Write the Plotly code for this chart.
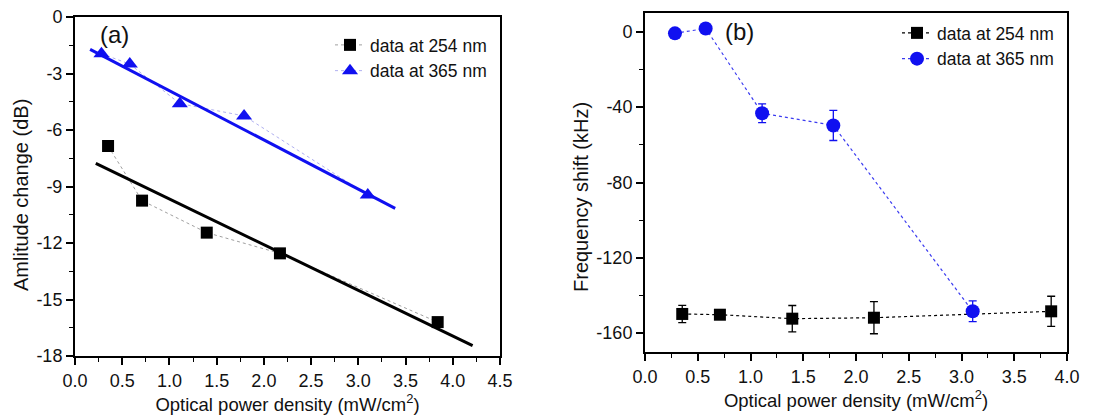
import plotly.graph_objects as go

# ---------------- data: panel (a) ----------------
a_x_254 = [0.35, 0.71, 1.395, 2.17, 3.84]
a_y_254 = [-6.85, -9.75, -11.45, -12.55, -16.2]
a_x_365 = [0.28, 0.58, 1.11, 1.79, 3.10]
a_y_365 = [-1.95, -2.5, -4.6, -5.25, -9.45]
fit_x_254 = [0.22, 4.21]
fit_y_254 = [-7.77, -17.45]
fit_x_365 = [0.16, 3.39]
fit_y_365 = [-1.72, -10.16]

# ---------------- data: panel (b) ----------------
b_x_254 = [0.353, 0.71, 1.396, 2.17, 3.85]
b_y_254 = [-149.8, -150.2, -152.3, -151.8, -148.4]
b_err_254 = [4.6, 1.2, 7.0, 8.5, 8.0]
b_x_365 = [0.284, 0.575, 1.11, 1.785, 3.106]
b_y_365 = [-0.8, 1.8, -43.2, -49.7, -148.4]
b_err_365 = [1.0, 2.0, 5.0, 8.0, 5.5]

labels = ["data at 254 nm", "data at 365 nm"]
x_ticks_a = [0.0, 0.5, 1.0, 1.5, 2.0, 2.5, 3.0, 3.5, 4.0, 4.5]
y_ticks_a = [0, -3, -6, -9, -12, -15, -18]
x_ticks_b = [0.0, 0.5, 1.0, 1.5, 2.0, 2.5, 3.0, 3.5, 4.0]
y_ticks_b = [0, -40, -80, -120, -160]
x_title = "Optical power density (mW/cm<sup>2</sup>)"
y_title_a = "Amlitude change (dB)"
y_title_b = "Frequency shift (kHz)"

FONT = "Liberation Sans, Arial, sans-serif"
BLUE = "#1010f0"
W, H = 1110, 416
OFF = 8  # page body margin


def xd(px0, px1):
    return [(px0 - OFF) / W, (px1 - OFF) / W]


def yd(top, bottom):
    return [1 - (bottom - OFF) / H, 1 - (top - OFF) / H]


def px(xpix):
    return (xpix - OFF) / W


def py(ypix):
    return 1 - (ypix - OFF) / H


fig = go.Figure()

# panel (a)
fig.add_trace(go.Scatter(x=a_x_254, y=a_y_254, mode="lines+markers", name=labels[0],
                         line=dict(color="#a0a0a0", width=1, dash="dot"),
                         marker=dict(symbol="square", size=12, color="black"),
                         xaxis="x", yaxis="y", legend="legend"))
fig.add_trace(go.Scatter(x=a_x_365, y=a_y_365, mode="lines+markers", name=labels[1],
                         line=dict(color="#b0b0f0", width=1, dash="dot"),
                         marker=dict(symbol="triangle-up", size=14, color=BLUE),
                         xaxis="x", yaxis="y", legend="legend"))
fig.add_trace(go.Scatter(x=fit_x_254, y=fit_y_254, mode="lines", showlegend=False,
                         line=dict(color="black", width=3), xaxis="x", yaxis="y"))
fig.add_trace(go.Scatter(x=fit_x_365, y=fit_y_365, mode="lines", showlegend=False,
                         line=dict(color=BLUE, width=3), xaxis="x", yaxis="y"))

# panel (b)
fig.add_trace(go.Scatter(x=b_x_254, y=b_y_254, mode="lines+markers", name=labels[0],
                         line=dict(color="black", width=1.2, dash="dot"),
                         marker=dict(symbol="square", size=12, color="black"),
                         error_y=dict(type="data", array=b_err_254, color="black",
                                      thickness=1.3, width=4),
                         xaxis="x2", yaxis="y2", legend="legend2"))
fig.add_trace(go.Scatter(x=b_x_365, y=b_y_365, mode="lines+markers", name=labels[1],
                         line=dict(color="#3a3af0", width=1.2, dash="dot"),
                         marker=dict(symbol="circle", size=14, color=BLUE),
                         error_y=dict(type="data", array=b_err_365, color=BLUE,
                                      thickness=1.3, width=4),
                         xaxis="x2", yaxis="y2", legend="legend2"))

axis_common = dict(showline=True, linecolor="black", linewidth=2, mirror=True,
                   ticks="outside", ticklen=7, tickwidth=1.5, tickcolor="black",
                   showgrid=False, zeroline=False, automargin=False,
                   ticklabeloverflow="allow",
                   tickfont=dict(family=FONT, size=18, color="#111"))
title_font = dict(family=FONT, size=18.5, color="#111")
ytitle_font = dict(family=FONT, size=20, color="#111")

fig.update_layout(
    template="none",
    width=W, height=H,
    margin=dict(l=0, r=0, t=0, b=0),
    paper_bgcolor="white", plot_bgcolor="white",
    font=dict(family=FONT, color="#111"),
    xaxis=dict(domain=xd(75, 500), range=[0, 4.5], tickvals=x_ticks_a,
               ticktext=[f"{v:.1f}" for v in x_ticks_a],
               minor=dict(dtick=0.25, ticks="outside", ticklen=4, tickwidth=1.2, tickcolor="black"),
               title=dict(text=x_title, font=title_font, standoff=8),
               anchor="y", **axis_common),
    yaxis=dict(domain=yd(17, 356), range=[-18, 0], tickvals=y_ticks_a,
               ticktext=[str(v) for v in y_ticks_a],
               minor=dict(dtick=1.5, ticks="outside", ticklen=4, tickwidth=1.2, tickcolor="black"),
               anchor="x", **axis_common),
    xaxis2=dict(domain=xd(645, 1067), range=[0, 4.0], tickvals=x_ticks_b,
                ticktext=[f"{v:.1f}" for v in x_ticks_b],
                minor=dict(dtick=0.25, ticks="outside", ticklen=4, tickwidth=1.2, tickcolor="black"),
                title=dict(text=x_title, font=title_font, standoff=8),
                anchor="y2", **axis_common),
    yaxis2=dict(domain=yd(13, 352), range=[-170, 10], tickvals=y_ticks_b,
                ticktext=[str(v) for v in y_ticks_b],
                minor=dict(dtick=20, ticks="outside", ticklen=4, tickwidth=1.2, tickcolor="black"),
                anchor="x2", **axis_common),
    legend=dict(x=(330 - OFF) / W, y=1 - (27 - OFF) / H, xanchor="left", yanchor="top",
                bgcolor="rgba(0,0,0,0)", font=dict(family=FONT, size=17.5, color="#111"),
                tracegroupgap=0, itemwidth=30),
    legend2=dict(x=(897 - OFF) / W, y=1 - (15 - OFF) / H, xanchor="left", yanchor="top",
                 bgcolor="rgba(0,0,0,0)", font=dict(family=FONT, size=17.5, color="#111"),
                 tracegroupgap=0, itemwidth=30),
    annotations=[
        dict(text="(a)", x=0.42, y=-0.95, xref="x", yref="y", xanchor="center", yanchor="middle",
             showarrow=False, font=dict(family=FONT, size=24, color="#111")),
        dict(text="(b)", x=0.9, y=0, xref="x2", yref="y2", xanchor="center", yanchor="middle",
             showarrow=False, font=dict(family=FONT, size=24, color="#111")),
        dict(text=y_title_a, x=px(21), y=py(195), xref="paper", yref="paper",
             xanchor="center", yanchor="middle", textangle=-90, showarrow=False,
             font=ytitle_font),
        dict(text=y_title_b, x=px(581), y=py(197), xref="paper", yref="paper",
             xanchor="center", yanchor="middle", textangle=-90, showarrow=False,
             font=ytitle_font),
    ],
)

fig.write_html("out.html")
